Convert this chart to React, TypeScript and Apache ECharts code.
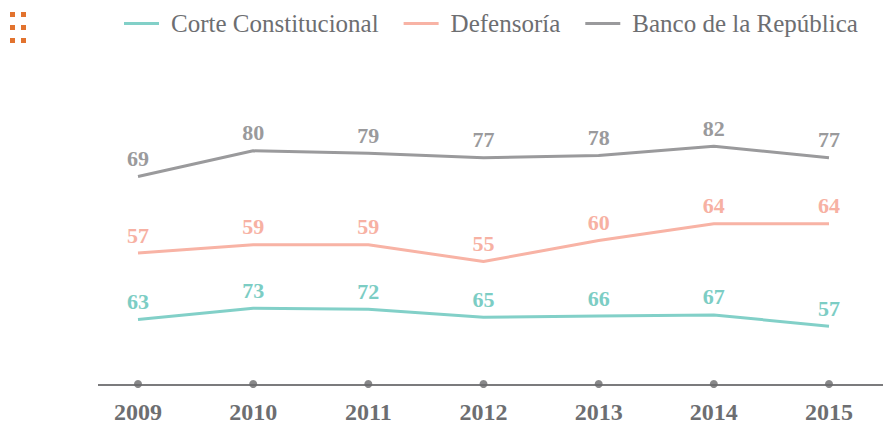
import React, { useEffect, useRef } from "react";
import * as echarts from "echarts";

const years = ["2009", "2010", "2011", "2012", "2013", "2014", "2015"];
const corte = [63, 73, 72, 65, 66, 67, 57];
const defensoria = [57, 59, 59, 55, 60, 64, 64];
const banco = [69, 80, 79, 77, 78, 82, 77];
const seriesNames = ["Corte Constitucional", "Defensoría", "Banco de la República"];
const axisDots = [0, 0, 0, 0, 0, 0, 0];

const FONT = "'Liberation Serif', 'Times New Roman', serif";
const TEAL = "#82d0c8";
const SALMON = "#f8b3a5";
const GRAY = "#9a9a9c";

export default function App() {
  const ref = useRef<HTMLDivElement>(null);
  useEffect(() => {
    if (!ref.current) return;
    const chart = echarts.init(ref.current, undefined, { renderer: "svg" });
    const mkLabel = (color: string) => ({
      show: true,
      position: "top",
      distance: 6,
      color,
      opacity: 1,
      fontFamily: FONT,
      fontWeight: "bold",
      fontSize: 22,
    });
    const squares: any[] = [];
    [10, 21].forEach((x) =>
      [12, 25, 38].forEach((y) =>
        squares.push({ type: "rect", shape: { x, y, width: 5, height: 5 }, style: { fill: "#e2732e" } })
      )
    );
    const lineSeries = (name: string, idx: number, data: number[], color: string, labelColor: string) => ({
      name,
      type: "line",
      yAxisIndex: idx,
      data,
      symbol: "circle",
      symbolSize: 2,
      showSymbol: true,
      showAllSymbol: true,
      color,
      itemStyle: { color: "rgba(0,0,0,0)", borderWidth: 0 },
      lineStyle: { width: 3, color },
      label: mkLabel(labelColor),
      labelLayout: { hideOverlap: false },
    });
    chart.setOption({
      animation: false,
      backgroundColor: "#ffffff",
      grid: { left: 138, right: 54, top: 100, bottom: 39, containLabel: false },
      legend: {
        left: 119,
        top: 6,
        icon: "rect",
        itemWidth: 35,
        itemHeight: 3,
        itemGap: 25,
        data: seriesNames.map((n, i) => ({ name: n, itemStyle: { color: [TEAL, SALMON, GRAY][i], opacity: 1 } })),
        textStyle: { fontFamily: FONT, fontSize: 25, color: "#6d6e71", padding: [0, 0, 0, 7] },
      },
      graphic: [
        ...squares,
        { type: "line", z: 0, shape: { x1: 98, y1: 385, x2: 883, y2: 385 }, style: { stroke: "#7b7b7d", lineWidth: 2 } },
      ],
      xAxis: {
        type: "category",
        data: years,
        boundaryGap: false,
        axisLine: { show: false },
        axisTick: { show: false },
        splitLine: { show: false },
        axisLabel: { fontFamily: FONT, fontWeight: "bold", fontSize: 24, color: "#6d6e71", margin: 16 },
      },
      yAxis: [
        { type: "value", min: 5.4, max: 258.8, show: false, splitLine: { show: false } },
        { type: "value", min: 25.8, max: 93.5, show: false, splitLine: { show: false } },
        { type: "value", min: -20.0, max: 101.8, show: false, splitLine: { show: false } },
        { type: "value", min: 0, max: 1, show: false, splitLine: { show: false } },
      ],
      series: [
        lineSeries(seriesNames[0], 0, corte, TEAL, "#7ccdc4"),
        lineSeries(seriesNames[1], 1, defensoria, SALMON, "#f7b1a3"),
        lineSeries(seriesNames[2], 2, banco, GRAY, "#9a9a9c"),
        {
          name: "dots",
          type: "scatter",
          yAxisIndex: 3,
          data: axisDots,
          symbol: "circle",
          symbolSize: 8,
          z: 10,
          clip: false,
          itemStyle: { color: "#6a6a6c" },
          silent: true,
        },
      ],
    });
    return () => chart.dispose();
  }, []);
  return <div ref={ref} style={{ position: "fixed", left: 0, top: 0, width: 883, height: 424 }} />;
}
